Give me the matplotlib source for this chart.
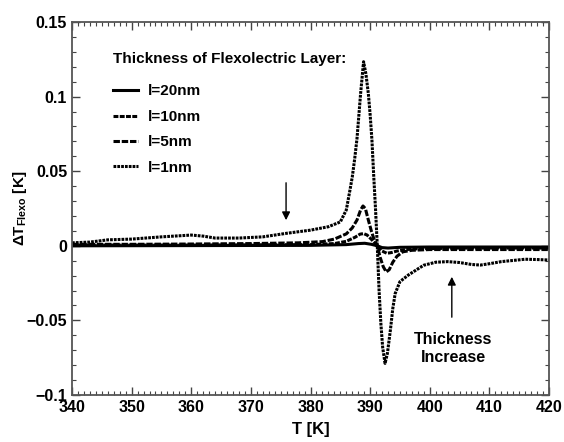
import numpy as np
import matplotlib.pyplot as plt
from matplotlib.ticker import MultipleLocator

plt.rcParams['font.family'] = ['Liberation Sans', 'DejaVu Sans']
plt.rcParams['font.weight'] = 'bold'
plt.rcParams['mathtext.fontset'] = 'custom'
plt.rcParams['mathtext.rm'] = 'Liberation Sans:bold'
plt.rcParams['mathtext.default'] = 'rm'

# l = 1 nm (largest response)
T_1 = [340, 343, 346, 350, 355, 360, 362, 364, 368, 372, 376, 380, 383, 385, 386,
       386.6, 387.0, 387.4, 387.8, 388.4, 388.9, 389.3, 389.7, 390.0, 390.3, 390.6,
       390.9, 391.2, 391.5, 391.8, 392.1, 392.5, 392.9, 393.4, 393.8, 394.2, 395.0,
       396.4, 398, 399, 401, 403, 405, 407, 408.5, 410, 412, 414, 416, 418, 420]
dT_1 = [0.002, 0.0025, 0.004, 0.0045, 0.006, 0.0072, 0.0065, 0.0052, 0.0052, 0.006,
        0.0084, 0.0105, 0.0128, 0.016, 0.024, 0.037, 0.046, 0.058, 0.072, 0.102,
        0.1234, 0.115, 0.102, 0.088, 0.071, 0.047, 0.025, 0.0, -0.030, -0.052,
        -0.068, -0.0788, -0.072, -0.0564, -0.042, -0.032, -0.024, -0.0196, -0.0155,
        -0.013, -0.011, -0.0106, -0.0112, -0.0125, -0.0129, -0.012, -0.0106,
        -0.0098, -0.009, -0.0092, -0.0095]

# l = 5 nm
T_5 = [340, 350, 360, 370, 378, 382, 384, 386, 387, 387.8, 388.4, 388.8, 389.2,
       389.7, 390.2, 390.6, 391.2, 391.7, 392.2, 392.7, 393.2, 393.8, 394.5, 395.5,
       397, 400, 405, 410, 420]
dT_5 = [0.001, 0.001, 0.0012, 0.0015, 0.002, 0.0028, 0.0045, 0.008, 0.012, 0.0173,
        0.024, 0.0267, 0.025, 0.0173, 0.010, 0.005, 0.0, -0.008, -0.014, -0.0175,
        -0.016, -0.011, -0.007, -0.004, -0.003, -0.0025, -0.0025, -0.0025, -0.0025]

# l = 10 nm
T_10 = [340, 360, 380, 384, 386, 387.5, 388.3, 388.9, 389.5, 390.3, 391.2, 392,
        392.8, 393.6, 394.5, 396, 398, 405, 420]
dT_10 = [0.0005, 0.0005, 0.0008, 0.0015, 0.003, 0.0058, 0.0078, 0.0082, 0.0072,
         0.004, 0.0, -0.0035, -0.005, -0.0045, -0.0035, -0.0025, -0.002, -0.0015,
         -0.0015]

# l = 20 nm
T_20 = [340, 380, 386, 388, 389.1, 390.2, 391.2, 392, 393, 395, 400, 420]
dT_20 = [0.0, 0.0003, 0.0008, 0.0015, 0.0017, 0.001, 0.0, -0.0012, -0.0015, -0.001,
         -0.0008, -0.0008]

fig = plt.figure(figsize=(5.64, 4.42), dpi=100)
ax = fig.add_axes([0.1277, 0.1063, 0.8457, 0.8439])

lw = 2.2
ax.plot(T_20, dT_20, color='black', lw=lw, label='l=20nm')
ax.plot(T_10, dT_10, color='black', lw=lw, dashes=(1.6, 0.45), label='l=10nm')
ax.plot(T_5, dT_5, color='black', lw=lw, dashes=(2.1, 0.6), label='l=5nm')
ax.plot(T_1, dT_1, color='black', lw=lw, dashes=(0.9, 0.35), label='l=1nm')

ax.set_xlim(340, 420)
ax.set_ylim(-0.1, 0.15)
ax.xaxis.set_major_locator(MultipleLocator(10))
ax.xaxis.set_minor_locator(MultipleLocator(1))
ax.yaxis.set_minor_locator(MultipleLocator(0.01))
ax.set_yticks([-0.1, -0.05, 0, 0.05, 0.1, 0.15])
ax.set_yticklabels(['\u22120.1', '\u22120.05', '0', '0.05', '0.1', '0.15'])
ax.tick_params(which='both', direction='in', top=True, right=True, labelsize=11.5,
               color='#444444', pad=3.5)
ax.tick_params(which='major', length=6, width=1)
ax.tick_params(which='minor', length=3, width=0.8)
for s in ax.spines.values():
    s.set_color('#555555')
    s.set_linewidth(1.3)

ax.set_xlabel('T [K]', fontsize=12, fontweight='bold', labelpad=5)
ax.set_ylabel(r'$\Delta$T$_{\mathrm{Flexo}}$ [K]', fontsize=11, fontweight='bold',
              labelpad=-2)

leg = ax.legend(loc='upper left', bbox_to_anchor=(0.086, 0.9185), frameon=False,
                title='Thickness of Flexolectric Layer:', alignment='left',
                fontsize=11, title_fontsize=11, handlelength=1.64, handletextpad=0.65,
                labelspacing=0.75, borderaxespad=0, borderpad=0)
leg.get_title().set_fontweight('bold')
leg._legend_box.sep = 13

ax.annotate('', xy=(375.9, 0.0153), xytext=(375.9, 0.0441),
            arrowprops=dict(arrowstyle='-|>', color='black', lw=1, mutation_scale=12))
ax.annotate('', xy=(403.7, -0.0189), xytext=(403.7, -0.0497),
            arrowprops=dict(arrowstyle='-|>', color='black', lw=1, mutation_scale=12))
ax.text(403.9, -0.0687, 'Thickness\nIncrease', ha='center', va='center',
        fontsize=11.5, fontweight='bold', linespacing=1.3)

fig.savefig('out.png', dpi=100)
